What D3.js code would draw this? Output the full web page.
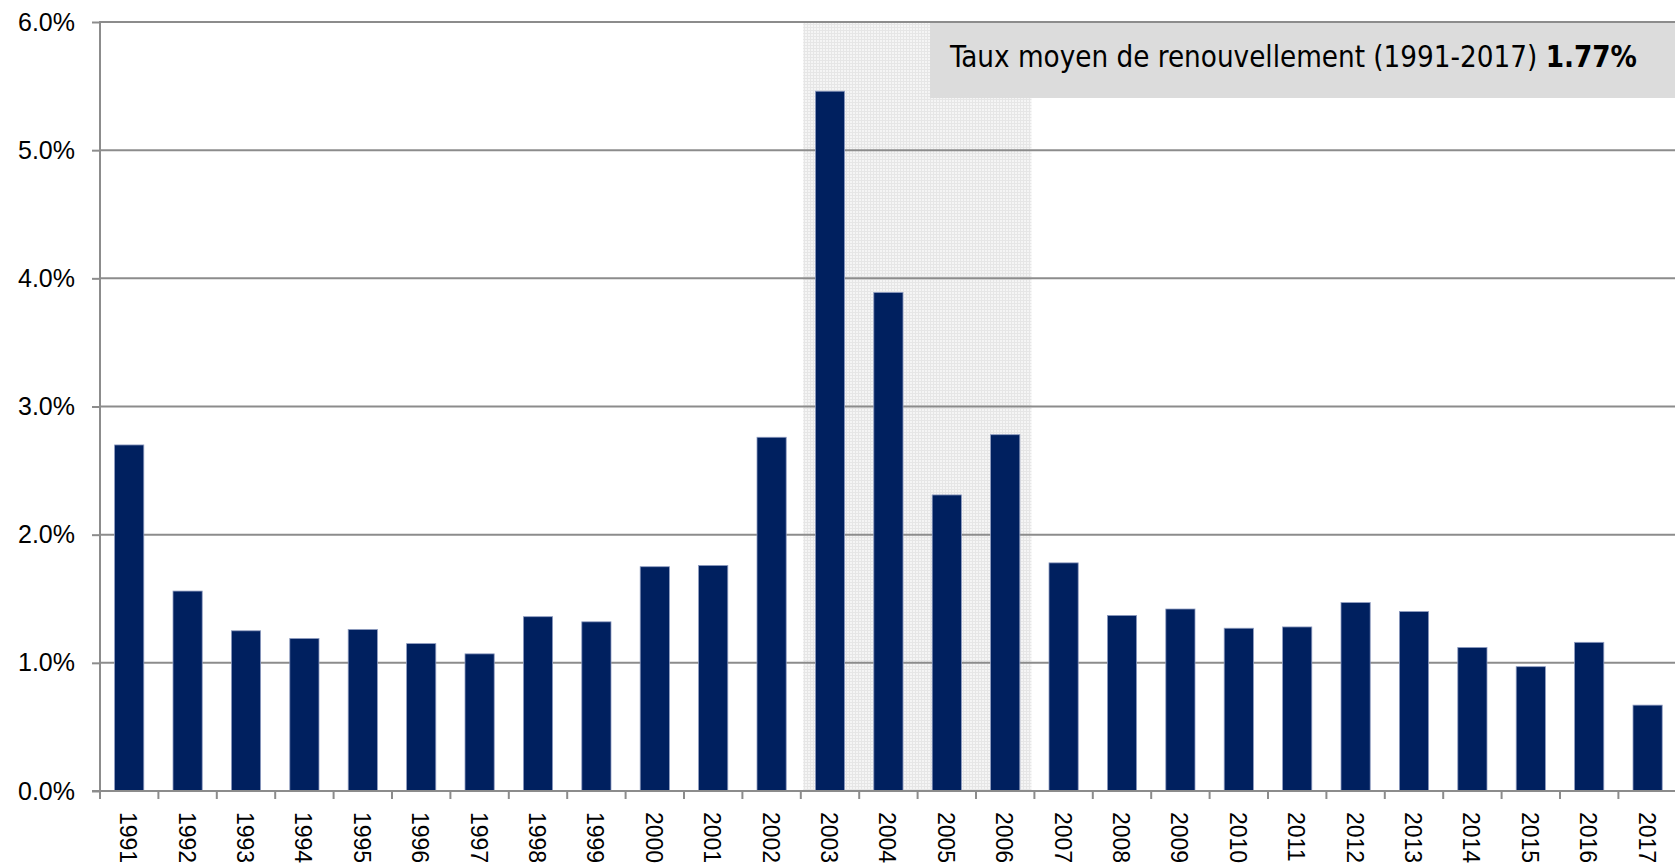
<!DOCTYPE html>
<html>
<head>
<meta charset="utf-8">
<script src="https://cdn.jsdelivr.net/npm/d3@7"></script>
<style>
  html, body { margin: 0; padding: 0; background: #fff; overflow: hidden; }
  svg { display: block; }
</style>
</head>
<body>
<svg id="chart" width="1675" height="867"></svg>
<script>
const years = ["1991","1992","1993","1994","1995","1996","1997","1998","1999","2000",
  "2001","2002","2003","2004","2005","2006","2007","2008","2009","2010",
  "2011","2012","2013","2014","2015","2016","2017"];
const rates = [2.70,1.56,1.25,1.19,1.26,1.15,1.07,1.36,1.32,1.75,
  1.76,2.76,5.46,3.89,2.31,2.78,1.78,1.37,1.42,1.27,
  1.28,1.47,1.40,1.12,0.97,1.16,0.67];
const yTicks = [0,1,2,3,4,5,6];
const highlightYears = ["2003","2006"];
const noteText = "Taux moyen de renouvellement (1991-2017) ";
const noteValue = "1.77%";

const svg = d3.select("#chart");
const x0 = 100, x1 = 100 + 27 * 58.4;
const yBottom = 791, yTop = 22;

const x = d3.scaleBand().domain(years).range([x0, x1]).paddingInner(0.5).paddingOuter(0.25);
const y = d3.scaleLinear().domain([0, 6]).range([yBottom, yTop]);
const bw = x.bandwidth();

// pattern for highlighted period
const defs = svg.append("defs");
const pat = defs.append("pattern").attr("id", "dots").attr("patternUnits", "userSpaceOnUse")
  .attr("width", 3).attr("height", 3);
pat.append("rect").attr("width", 3).attr("height", 3).attr("fill", "#f5f5f5");
pat.append("rect").attr("width", 3).attr("height", 1).attr("fill", "#e6e6e6");
pat.append("rect").attr("width", 1).attr("height", 3).attr("fill", "#e6e6e6");

svg.append("rect")
  .attr("x", x(highlightYears[0]) - bw * 0.42)
  .attr("y", y(6) + 1)
  .attr("width", (x(highlightYears[1]) + bw * 1.4) - (x(highlightYears[0]) - bw * 0.42))
  .attr("height", y(0) - y(6) - 1)
  .attr("fill", "url(#dots)");

// gridlines
svg.append("g").selectAll("line").data(yTicks.filter(d => d > 0)).join("line")
  .attr("x1", x0).attr("x2", 1675)
  .attr("y1", d => y(d)).attr("y2", d => y(d))
  .attr("stroke", "#8c8c8c").attr("stroke-width", 2);

// bars
svg.append("g").selectAll("rect").data(years).join("rect")
  .attr("x", d => x(d))
  .attr("y", (d, i) => y(rates[i]))
  .attr("width", bw)
  .attr("height", (d, i) => y(0) - y(rates[i]))
  .attr("fill", "#00205f")
  .attr("stroke", "#8e9cc0")
  .attr("stroke-width", 0.8);

// y axis
const yAxis = d3.axisLeft(y).tickValues(yTicks).tickSize(8).tickPadding(17)
  .tickFormat(d => d3.format(".1f")(d) + "%");
const gy = svg.append("g").attr("transform", `translate(${x0},0)`).call(yAxis);
gy.select(".domain").remove();
gy.selectAll(".tick line").attr("stroke", "#8c8c8c").attr("stroke-width", 2);
gy.selectAll(".tick text").attr("fill", "#000")
  .style("font-family", "'Liberation Sans', Arial, sans-serif").style("font-size", "25px");

// x axis
const tickPos = years.map(d => x(d) - x.step() * 0.25);
tickPos.push(x(years[years.length - 1]) + bw + x.step() * 0.25);
svg.append("g").selectAll("line").data(tickPos).join("line")
  .attr("x1", d => d).attr("x2", d => d)
  .attr("y1", yBottom).attr("y2", yBottom + 8)
  .attr("stroke", "#8c8c8c").attr("stroke-width", 2);
svg.append("line").attr("x1", x0 - 8).attr("x2", 1675).attr("y1", yBottom).attr("y2", yBottom)
  .attr("stroke", "#8c8c8c").attr("stroke-width", 2);
svg.append("line").attr("x1", x0).attr("x2", x0).attr("y1", yTop - 1).attr("y2", yBottom + 8)
  .attr("stroke", "#8c8c8c").attr("stroke-width", 2);

svg.append("g").selectAll("text").data(years).join("text")
  .attr("transform", d => `translate(${x(d) + bw / 2 - 1},${yBottom + 21}) rotate(90)`)
  .attr("text-anchor", "start")
  .attr("dominant-baseline", "central")
  .style("font-family", "'Liberation Sans', Arial, sans-serif")
  .style("font-size", "23px")
  .attr("fill", "#000")
  .text(d => d);

// annotation box
svg.append("rect").attr("x", 930).attr("y", y(6) + 1).attr("width", 760).attr("height", 98 - y(6) - 1)
  .attr("fill", "#dcdcdc");
const note = svg.append("text").attr("x", 950).attr("y", 67)
  .style("font-family", "Tahoma, 'DejaVu Sans Condensed', 'DejaVu Sans', sans-serif")
  .style("font-size", "27px").attr("fill", "#000");
note.append("tspan").text(noteText);
note.append("tspan").attr("font-weight", "bold").text(noteValue);
const w = note.node().getComputedTextLength();
const target = 687;
note.style("font-size", (27 * target / w).toFixed(2) + "px");
</script>
</body>
</html>
